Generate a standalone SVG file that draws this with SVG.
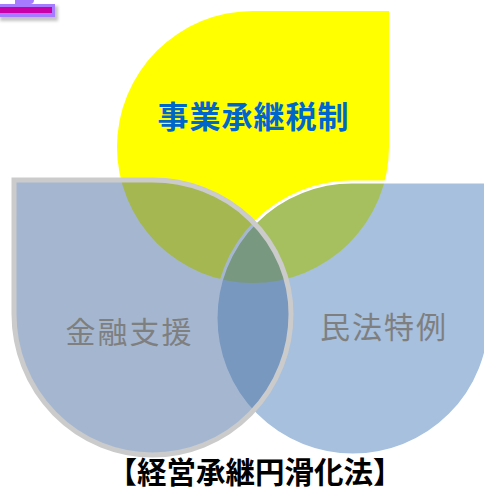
<svg xmlns="http://www.w3.org/2000/svg" width="484" height="492" viewBox="0 0 484 492">
<defs>
<filter id="sh" x="-20%" y="-50%" width="140%" height="200%"><feGaussianBlur stdDeviation="1.5"/></filter>
<style>
.jp{font-family:"Noto Sans CJK JP","Noto Sans CJK SC",sans-serif;}
.lbl{font-size:30px;fill:#7f7f7f;letter-spacing:2px;text-anchor:middle;}
</style>
</defs>
<rect width="484" height="492" fill="#ffffff"/>
<g id="mark">
<rect x="0" y="6" width="58" height="15" fill="#888" opacity="0.5" filter="url(#sh)"/>
<path d="M15,4 L15,0 L34,0 Q34,4 30,4 Z" fill="#a77bff"/>
<rect x="0" y="4" width="55" height="13" fill="#a77bff"/>
<rect x="0" y="7" width="52" height="6" fill="#c800a8"/>
</g>
<g id="node-zeisei">
<path d="M117,147 A136,136 0 0 1 253,11 L389,11 L389,147 A136,136 0 0 1 117,147 Z" fill="#ffff00"/>
</g>
<g id="node-minpo">
<path d="M216,318 A136,136 0 0 1 352,182 L490,182 L490,318 A136,136 0 0 1 216,318 Z" fill="#4d81bd" fill-opacity="0.5" stroke="#ffffff" stroke-width="3"/>
</g>
<g id="node-kinyu">
<path d="M14,180 L152,180 A138.5,134 0 0 1 291,314 A138.5,141 0 0 1 14,314 Z" fill="#4b6fa1" fill-opacity="0.5" stroke="#cbcbcb" stroke-width="5"/>
</g>
<g id="labels">
<text class="jp" x="253.5" y="128" font-size="31" font-weight="bold" fill="#0066cc" letter-spacing="1" text-anchor="middle">事業承継税制</text>
<text class="jp lbl" x="129.5" y="343">金融支援</text>
<text class="jp lbl" x="384" y="338">民法特例</text>
<text class="jp" x="255" y="483" font-size="29.5" font-weight="bold" fill="#000000" text-anchor="middle">【経営承継円滑化法】</text>
</g>
<g id="connectors"></g>
</svg>
